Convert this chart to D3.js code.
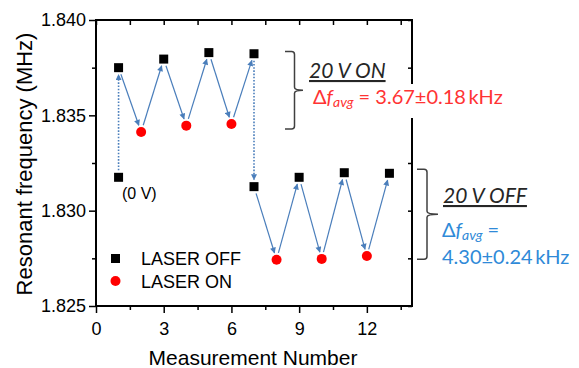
<!DOCTYPE html>
<html>
<head>
<meta charset="utf-8">
<script src="https://cdn.jsdelivr.net/npm/d3@7"></script>
<style>
  body { margin: 0; background: #fff; }
  svg { display: block; }
</style>
</head>
<body>
<div id="chart"></div>
<script>
// measurement sequence, in the order the arrows connect them
const seqMeas = [1, 1, 2, 3, 4, 5, 6, 7, 7, 8, 9, 10, 11, 12, 13];
const seqFreq = [1.83175, 1.83750, 1.83413, 1.83795, 1.83446, 1.83829, 1.83455, 1.83823,
                 1.83126, 1.82743, 1.83175, 1.82747, 1.83199, 1.82762, 1.83196];
const seqLaser = ['OFF', 'OFF', 'ON', 'OFF', 'ON', 'OFF', 'ON', 'OFF',
                  'OFF', 'ON', 'OFF', 'ON', 'OFF', 'ON', 'OFF'];

const xTicks = [0, 3, 6, 9, 12];
const xMinor = [1.5, 4.5, 7.5, 10.5, 13.5];
const yTicks = [1.825, 1.830, 1.835, 1.840];
const yMinor = [1.8275, 1.8325, 1.8375];

const legendLabels = ['LASER OFF', 'LASER ON'];
// bracket ranges (MHz) of the two groups
const onRange = [1.83835, 1.83428];
const offRange = [1.83217, 1.82745];

const width = 579, height = 368;
const blue = '#4a7ebb', red = '#ff0000';
const font = '"Liberation Sans", Arial, sans-serif';
const noteFont = 'Lato, "Open Sans", sans-serif';

let svg = d3.select('#chart').append('svg')
    .attr('width', width)
    .attr('height', height);

let x = d3.scaleLinear().domain([0, 14]).range([96, 412]);
let y = d3.scaleLinear().domain([1.825, 1.840]).range([306, 20]);

svg.append('defs').append('marker')
    .attr('id', 'head')
    .attr('viewBox', '0 0 10 10')
    .attr('refX', 9).attr('refY', 5)
    .attr('markerWidth', 7).attr('markerHeight', 6)
    .attr('markerUnits', 'userSpaceOnUse')
    .attr('orient', 'auto')
    .append('path')
    .attr('d', 'M0,0L10,5L0,10z')
    .attr('fill', blue);

// axes
let styleAxis = (g) => {
    g.select('.domain').remove();
    g.selectAll('line').attr('stroke', '#000').attr('stroke-width', 1.5);
    g.selectAll('text').style('font-family', font).style('font-size', '18px').attr('fill', '#000');
};
svg.append('g').attr('transform', 'translate(0,306)')
    .call(d3.axisBottom(x).tickValues(xTicks).tickSize(7).tickPadding(9).tickFormat(d3.format('d')))
    .call(styleAxis);
svg.append('g').attr('transform', 'translate(0,306)')
    .call(d3.axisBottom(x).tickValues(xMinor).tickSize(4).tickFormat(''))
    .call(styleAxis);
svg.append('g').attr('transform', 'translate(0,20)')
    .call(d3.axisTop(x).tickValues(xTicks.concat(xMinor)).tickSize(-5).tickFormat(''))
    .call(styleAxis);
svg.append('g').attr('transform', 'translate(96,0)')
    .call(d3.axisLeft(y).tickValues(yTicks).tickSize(7).tickPadding(3).tickFormat(d3.format('.3f')))
    .call(styleAxis);
svg.append('g').attr('transform', 'translate(96,0)')
    .call(d3.axisLeft(y).tickValues(yMinor).tickSize(4).tickFormat(''))
    .call(styleAxis);
svg.append('g').attr('transform', 'translate(412,0)')
    .call(d3.axisRight(y).tickValues(yTicks.concat(yMinor)).tickSize(-4).tickFormat(''))
    .call(styleAxis);

svg.append('rect')
    .attr('x', x(0)).attr('y', y(1.840))
    .attr('width', x(14) - x(0)).attr('height', y(1.825) - y(1.840))
    .attr('fill', 'none').attr('stroke', '#000').attr('stroke-width', 2);

// axis titles
svg.append('text')
    .attr('x', 253).attr('y', 365)
    .attr('text-anchor', 'middle')
    .style('font-family', font).style('font-size', '21px')
    .text('Measurement Number');
svg.append('text')
    .attr('transform', 'translate(32,164) rotate(-90)')
    .attr('text-anchor', 'middle')
    .style('font-family', font).style('font-size', '22px')
    .text('Resonant frequency (MHz)');

// arrows between consecutive points
let pts = seqMeas.map((m, i) => ({px: x(m), py: y(seqFreq[i]), laser: seqLaser[i], meas: m}));
let links = d3.pairs(pts);
svg.append('g').selectAll('line')
    .data(links)
    .enter()
    .append('line')
    .each(function (d) {
        let [a, b] = d;
        let dx = b.px - a.px, dy = b.py - a.py;
        let len = Math.hypot(dx, dy);
        let s = 7, e = 7;
        d3.select(this)
            .attr('x1', a.px + dx * s / len).attr('y1', a.py + dy * s / len)
            .attr('x2', b.px - dx * e / len).attr('y2', b.py - dy * e / len);
    })
    .attr('stroke', blue)
    .attr('stroke-width', (d) => d[0].meas === d[1].meas ? 1.6 : 1.2)
    .attr('stroke-dasharray', (d) => d[0].meas === d[1].meas ? '1.6,1.6' : null)
    .attr('marker-end', 'url(#head)');

// markers
svg.append('g').selectAll('rect')
    .data(pts.filter((p) => p.laser === 'OFF'))
    .enter()
    .append('rect')
    .attr('x', (d) => d.px - 4.5).attr('y', (d) => d.py - 4.5)
    .attr('width', 9).attr('height', 9)
    .attr('fill', '#000');
svg.append('g').selectAll('circle')
    .data(pts.filter((p) => p.laser === 'ON'))
    .enter()
    .append('circle')
    .attr('cx', (d) => d.px).attr('cy', (d) => d.py)
    .attr('r', 5)
    .attr('fill', red);

svg.append('text')
    .attr('x', 122).attr('y', 199)
    .style('font-family', font).style('font-size', '16px')
    .text('(0 V)');

// legend
let legend = svg.append('g');
legend.append('rect').attr('x', 111).attr('y', 254).attr('width', 9).attr('height', 9).attr('fill', '#000');
legend.append('circle').attr('cx', 115.5).attr('cy', 281).attr('r', 5).attr('fill', red);
legend.selectAll('text')
    .data(legendLabels)
    .enter()
    .append('text')
    .attr('x', 141).attr('y', (d, i) => 265 + i * 23)
    .style('font-family', font).style('font-size', '18px')
    .text((d) => d);

// brackets
let brace = (x0, xv, xt, top, bot) => {
    let mid = (top + bot) / 2, r = 3;
    return 'M' + x0 + ',' + top + 'L' + (xv - r) + ',' + top + 'Q' + xv + ',' + top + ' ' + xv + ',' + (top + r) +
        'L' + xv + ',' + (mid - r) + 'Q' + xv + ',' + mid + ' ' + xt + ',' + mid +
        'Q' + xv + ',' + mid + ' ' + xv + ',' + (mid + r) +
        'L' + xv + ',' + (bot - r) + 'Q' + xv + ',' + bot + ' ' + (xv - r) + ',' + bot + 'L' + x0 + ',' + bot;
};
svg.append('path')
    .attr('d', brace(285, 294.5, 303, y(onRange[0]), y(onRange[1])))
    .attr('fill', 'none').attr('stroke', '#404040').attr('stroke-width', 1.5);
svg.append('path')
    .attr('d', brace(417, 427, 438, y(offRange[0]), y(offRange[1])))
    .attr('fill', 'none').attr('stroke', '#404040').attr('stroke-width', 1.5);

// annotation: 20 V ON
svg.append('rect').attr('x', 308).attr('y', 84).attr('width', 205).attr('height', 34).attr('fill', '#fff');
svg.append('text')
    .attr('x', 309).attr('y', 78)
    .style('font-family', noteFont).style('font-size', '21px').style('font-style', 'italic')
    .style('text-decoration', 'underline')
    .attr('fill', '#262626')
    .text('20 V ON');

let deltaText = (g, xx, yy, color, rest) => {
    let t = g.append('text')
        .attr('x', xx).attr('y', yy)
        .style('font-family', noteFont).style('font-size', '20px')
        .attr('fill', color);
    t.append('tspan').text('\u0394');
    t.append('tspan').style('font-style', 'italic').text('f');
    t.append('tspan').style('font-style', 'italic').style('font-size', '14px').attr('dy', 3).text('avg');
    t.append('tspan').attr('dy', -3).text(rest);
    return t;
};
deltaText(svg, 313, 104, '#ff3333', ' = 3.67\u00b10.18\u2009kHz');

// annotation: 20 V OFF
svg.append('text')
    .attr('x', 443).attr('y', 203)
    .style('font-family', noteFont).style('font-size', '21px').style('font-style', 'italic')
    .style('text-decoration', 'underline')
    .attr('fill', '#262626')
    .text('20 V OFF');
deltaText(svg, 442, 237, '#2f8ad8', ' =');
svg.append('text')
    .attr('x', 442).attr('y', 264)
    .style('font-family', noteFont).style('font-size', '20px')
    .attr('fill', '#2f8ad8')
    .text('4.30\u00b10.24\u2009kHz');
</script>
</body>
</html>
